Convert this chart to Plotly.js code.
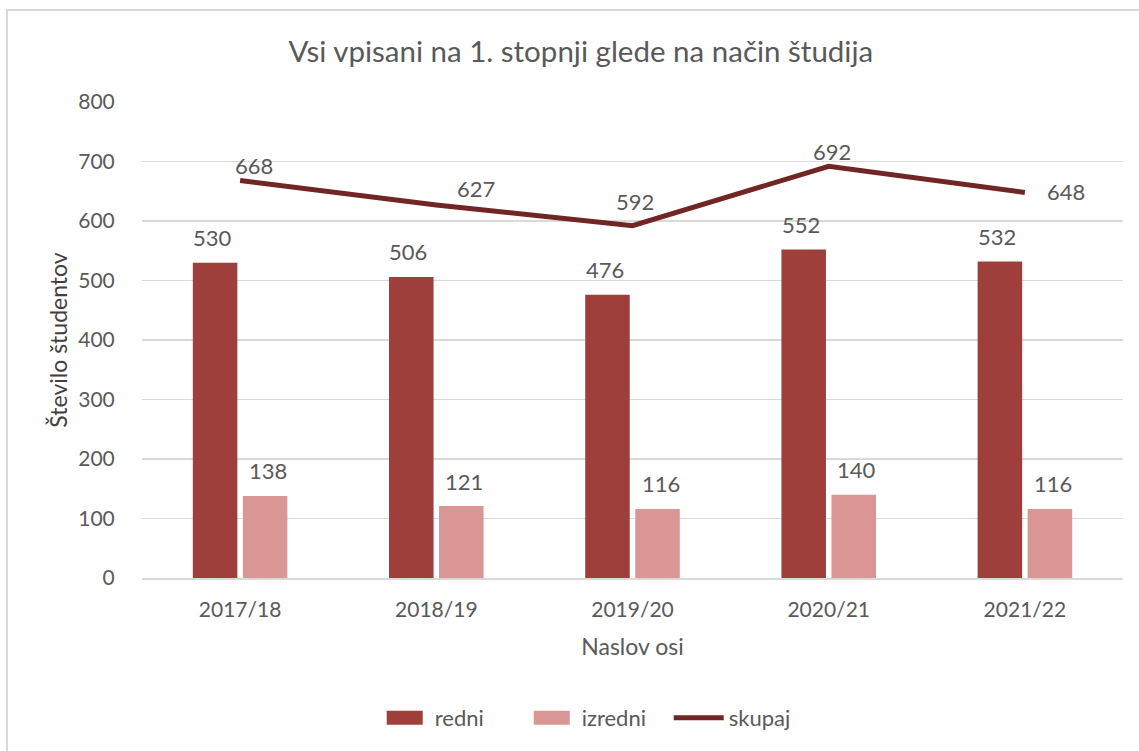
<!DOCTYPE html>
<html>
<head>
<meta charset="utf-8">
<script src="https://cdn.plot.ly/plotly-3.0.1.min.js"></script>
<style>html,body{margin:0;padding:0;background:#fff;}#chart{width:1139px;height:751px;}</style>
</head>
<body>
<div id="chart"></div>
<script>
const categories = ["2017/18", "2018/19", "2019/20", "2020/21", "2021/22"];
const redni = [530, 506, 476, 552, 532];
const izredni = [138, 121, 116, 140, 116];
const skupaj = [668, 627, 592, 692, 648];
const yTicks = [0, 100, 200, 300, 400, 500, 600, 700, 800];

const FONT = "Lato, 'Open Sans', sans-serif";
const GRAY = "#595959";

// label offsets (pixels) for the total line, mimicking the auto placement
const lineLabelShift = [[14, -14], [40, -15], [2, -23], [3, -14], [41, 0]];

const traces = [
  {type: "bar", name: "redni", x: categories, y: redni,
   marker: {color: "#9E3F3C"}, hoverinfo: "x+y"},
  {type: "bar", name: "izredni", x: categories, y: izredni,
   marker: {color: "#D99694"}, hoverinfo: "x+y"},
  {type: "scatter", mode: "lines", name: "skupaj", x: categories, y: skupaj,
   line: {color: "#722525", width: 5}, hoverinfo: "x+y"}
];

const LBL = {family: FONT, size: 22, color: GRAY};
const annotations = [];
categories.forEach((c, i) => {
  annotations.push({x: c, y: redni[i], xref: "x", yref: "y", text: String(redni[i]),
    showarrow: false, xshift: -28, yshift: 25, font: LBL});
  annotations.push({x: c, y: izredni[i], xref: "x", yref: "y", text: String(izredni[i]),
    showarrow: false, xshift: 28, yshift: 25, font: LBL});
  annotations.push({x: c, y: skupaj[i], xref: "x", yref: "y", text: String(skupaj[i]),
    showarrow: false, xshift: lineLabelShift[i][0], yshift: -lineLabelShift[i][1] + 1, font: LBL});
});

const layout = {
  width: 1139, height: 751,
  margin: {l: 142, r: 16, t: 102, b: 173},
  paper_bgcolor: "#ffffff", plot_bgcolor: "#ffffff",
  font: {family: FONT, color: GRAY, size: 21},
  title: {text: "Vsi vpisani na 1. stopnji glede na način študija",
    font: {family: FONT, size: 29.5, color: GRAY}, x: 0.51, xanchor: "center", y: 0.931, yanchor: "middle"},
  barmode: "group", bargap: 0.49, bargroupgap: 0.11,
  xaxis: {type: "category", showgrid: false, zeroline: false,
    showline: true, linecolor: "#D9D9D9", linewidth: 2,
    ticks: "outside", ticklen: 12, tickcolor: "rgba(0,0,0,0)",
    tickfont: {family: FONT, size: 21, color: GRAY},
    title: {text: "Naslov osi", font: {family: FONT, size: 23, color: GRAY}, standoff: 19},
    automargin: false},
  yaxis: {range: [0, 800], tickvals: yTicks, showgrid: true, gridcolor: "#D9D9D9", gridwidth: 1.5,
    zeroline: false, showline: false,
    ticks: "outside", ticklen: 22, tickcolor: "rgba(0,0,0,0)",
    tickfont: {family: FONT, size: 21, color: GRAY},
    title: {text: "Število študentov", font: {family: FONT, size: 23, color: "#404040"}, standoff: 4},
    automargin: false},
  legend: {orientation: "h", x: 0.462, xanchor: "center", y: -0.294, yanchor: "middle",
    font: {family: FONT, size: 22, color: GRAY}, itemwidth: 50, entrywidth: 82,
    traceorder: "normal"},
  annotations: annotations,
  shapes: [{type: "rect", xref: "paper", yref: "paper",
    x0: (7 - 142) / 981, x1: 1.1, y0: -0.5, y1: 1 + 92 / 476,
    line: {color: "#D9D9D9", width: 2}, fillcolor: "rgba(0,0,0,0)", layer: "below"}],
  showlegend: true
};

Plotly.newPlot("chart", traces, layout, {staticPlot: true, displayModeBar: false}).then(gd => {
  // widen the bar swatches in the legend to match the reference's rectangular keys
  gd.querySelectorAll(".legend .traces").forEach((t, i) => {
    if (i < 2) {
      t.querySelectorAll(".legendpoints path").forEach(p => p.setAttribute("d", "M18,7H-18V-7H18Z"));
    }
  });
});
</script>
</body>
</html>
